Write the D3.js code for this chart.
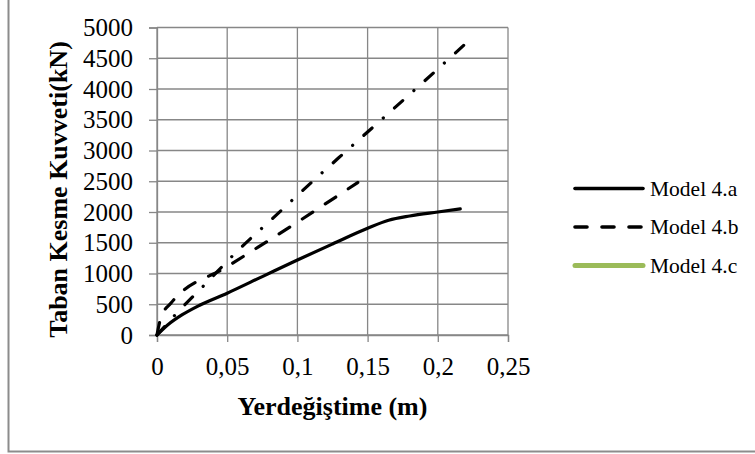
<!DOCTYPE html>
<html>
<head>
<meta charset="utf-8">
<script src="https://cdn.jsdelivr.net/npm/d3@7"></script>
<style>
  html, body { margin: 0; padding: 0; background: #fff; }
  svg { display: block; font-family: "Liberation Serif", "Times New Roman", serif; }
</style>
</head>
<body>
<svg id="chart" width="755" height="454"></svg>
<script>
// ---- data ----
const xTickValues = [0, 0.05, 0.1, 0.15, 0.2, 0.25];
const xTickLabels = ["0", "0,05", "0,1", "0,15", "0,2", "0,25"];
const yTickValues = [0, 500, 1000, 1500, 2000, 2500, 3000, 3500, 4000, 4500, 5000];

const model4aX = [0, 0.008, 0.018, 0.03, 0.05, 0.075, 0.1, 0.125, 0.15, 0.165, 0.18, 0.2, 0.216];
const model4aY = [0, 170, 330, 480, 680, 950, 1220, 1480, 1735, 1865, 1935, 2000, 2050];

const model4bX = [0, 0.003, 0.01, 0.05, 0.1, 0.143];
const model4bY = [0, 300, 520, 1110, 1835, 2480];

const dashDotX = [0, 0.0133, 0.0354, 0.0575, 0.0824, 0.1054, 0.129, 0.1524, 0.176, 0.1992, 0.2235];
const dashDotY = [0, 336, 851, 1371, 1897, 2385, 2873, 3350, 3832, 4309, 4815];

const legendNames = ["Model 4.a", "Model 4.b", "Model 4.c"];
const xTitle = "Yerdeğiştime (m)";
const yTitle = "Taban Kesme Kuvveti(kN)";

// ---- layout ----
const svg = d3.select("#chart");
const plot = { left: 157, right: 508, top: 27.5, bottom: 335 };
const x = d3.scaleLinear().domain([0, 0.25]).range([plot.left, plot.right]);
const y = d3.scaleLinear().domain([0, 5000]).range([plot.bottom, plot.top]);
const gridColor = "#878787";

// outer frame (only left and bottom edges visible)
svg.append("rect")
  .attr("x", 8.5).attr("y", -20).attr("width", 800).attr("height", 471.5)
  .attr("fill", "none").attr("stroke", "#8c8c8c").attr("stroke-width", 2);

// gridlines
const grid = svg.append("g");
grid.selectAll("line.h").data(yTickValues).join("line")
  .attr("x1", plot.left).attr("x2", plot.right)
  .attr("y1", d => y(d)).attr("y2", d => y(d))
  .attr("stroke", gridColor).attr("stroke-width", 1.3);
grid.selectAll("line.v").data(xTickValues).join("line")
  .attr("y1", plot.top).attr("y2", plot.bottom)
  .attr("x1", d => x(d)).attr("x2", d => x(d))
  .attr("stroke", gridColor).attr("stroke-width", 1.3);

// axes
const yAxis = d3.axisLeft(y).tickValues(yTickValues).tickSize(8).tickPadding(16).tickFormat(d => String(d));
const gy = svg.append("g").attr("transform", `translate(${plot.left},0)`).call(yAxis);
const xAxis = d3.axisBottom(x).tickValues(xTickValues).tickSize(7).tickPadding(15)
  .tickFormat((d, i) => xTickLabels[i]);
const gx = svg.append("g").attr("transform", `translate(0,${plot.bottom})`).call(xAxis);
[gx, gy].forEach(g => {
  g.select(".domain").attr("stroke", gridColor).attr("stroke-width", 1.3);
  g.selectAll(".tick line").attr("stroke", gridColor).attr("stroke-width", 1.3);
  g.selectAll(".tick text").attr("fill", "#000")
    .style("font-family", "'Liberation Serif', 'Times New Roman', serif")
    .style("font-size", "25px");
});

// axis titles
svg.append("text")
  .attr("x", (plot.left + plot.right) / 2).attr("y", 415)
  .attr("text-anchor", "middle")
  .style("font-size", "26px").style("font-weight", "bold")
  .text(xTitle);
svg.append("text")
  .attr("transform", "translate(67,189.5) rotate(-90)")
  .attr("text-anchor", "middle")
  .style("font-size", "26px").style("font-weight", "bold")
  .text(yTitle);

// series
const line = d3.line().x(d => x(d[0])).y(d => y(d[1])).curve(d3.curveMonotoneX);
const lines = svg.append("g");
lines.append("path")
  .datum(dashDotX.map((v, i) => [v, dashDotY[i]]))
  .attr("d", line).attr("fill", "none").attr("stroke", "#000")
  .attr("stroke-width", 3.2).attr("stroke-linecap", "round")
  .attr("stroke-dasharray", "11,15,0.1,15");
lines.append("path")
  .datum(model4bX.map((v, i) => [v, model4bY[i]]))
  .attr("d", line).attr("fill", "none").attr("stroke", "#000")
  .attr("stroke-width", 3.2).attr("stroke-linecap", "round")
  .attr("stroke-dasharray", "12.5,15");
lines.append("path")
  .datum(model4aX.map((v, i) => [v, model4aY[i]]))
  .attr("d", line).attr("fill", "none").attr("stroke", "#000")
  .attr("stroke-width", 3.2).attr("stroke-linecap", "round").attr("stroke-linejoin", "round");

// legend
const legendStyles = [
  { color: "#000", dash: null, width: 3.6 },
  { color: "#000", dash: "12,15", width: 3.6 },
  { color: "#9bbb59", dash: null, width: 5 }
];
const legendY = [188.5, 227, 265.5];
const lg = svg.append("g");
legendNames.forEach((name, i) => {
  const st = legendStyles[i];
  lg.append("line")
    .attr("x1", 575).attr("x2", 643)
    .attr("y1", legendY[i]).attr("y2", legendY[i])
    .attr("stroke", st.color).attr("stroke-width", st.width)
    .attr("stroke-linecap", "round")
    .attr("stroke-dasharray", st.dash);
  lg.append("text")
    .attr("x", 650).attr("y", legendY[i] + 7)
    .style("font-size", "21.5px")
    .text(name);
});
</script>
</body>
</html>
